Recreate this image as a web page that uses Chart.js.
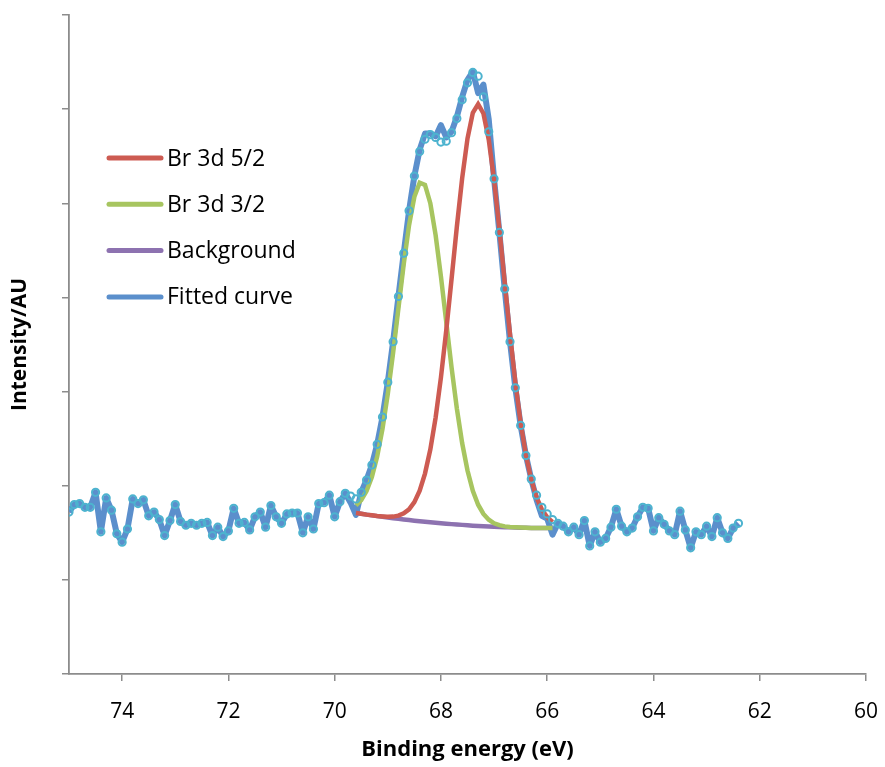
<!DOCTYPE html>
<html>
<head>
<meta charset="utf-8">
<title>Br 3d XPS</title>
<script src="https://cdn.jsdelivr.net/npm/chart.js@4.4.1/dist/chart.umd.min.js"></script>
<style>
  html, body { margin: 0; padding: 0; background: #fff; }
  #xps { display: block; }
</style>
</head>
<body>
<canvas id="xps" width="885" height="767"></canvas>
<script>
// binding energy grid of the measured spectrum (eV)
var energy = [
  75.0, 74.9, 74.8, 74.7, 74.6, 74.5, 74.4, 74.3, 74.2, 74.1,
  74.0, 73.9, 73.8, 73.7, 73.6, 73.5, 73.4, 73.3, 73.2, 73.1,
  73.0, 72.9, 72.8, 72.7, 72.6, 72.5, 72.4, 72.3, 72.2, 72.1,
  72.0, 71.9, 71.8, 71.7, 71.6, 71.5, 71.4, 71.3, 71.2, 71.1,
  71.0, 70.9, 70.8, 70.7, 70.6, 70.5, 70.4, 70.3, 70.2, 70.1,
  70.0, 69.9, 69.8, 69.7, 69.6, 69.5, 69.4, 69.3, 69.2, 69.1,
  69.0, 68.9, 68.8, 68.7, 68.6, 68.5, 68.4, 68.3, 68.2, 68.1,
  68.0, 67.9, 67.8, 67.7, 67.6, 67.5, 67.4, 67.3, 67.2, 67.1,
  67.0, 66.9, 66.8, 66.7, 66.6, 66.5, 66.4, 66.3, 66.2, 66.1,
  66.0, 65.9, 65.8, 65.7, 65.6, 65.5, 65.4, 65.3, 65.2, 65.1,
  65.0, 64.9, 64.8, 64.7, 64.6, 64.5, 64.4, 64.3, 64.2, 64.1,
  64.0, 63.9, 63.8, 63.7, 63.6, 63.5, 63.4, 63.3, 63.2, 63.1,
  63.0, 62.9, 62.8, 62.7, 62.6, 62.5, 62.4
];

// measured intensity (open markers)
var measured = [
  172, 180, 181, 177, 177, 193, 151, 187, 174, 149,
  140, 154, 186, 181, 185, 168, 172, 164, 147, 163,
  180, 162, 158, 160, 158, 160, 161, 147, 156, 146,
  152, 176, 160, 161, 153, 167, 172, 156, 179, 167,
  160, 170, 171, 171, 150, 167, 154, 181, 182, 190,
  167, 183, 192, 189, 186, 193, 206, 222, 244, 273,
  310, 353, 401, 447, 492, 529, 555, 568, 573, 570,
  565, 566, 575, 590, 610, 628, 639, 635, 613, 576,
  526, 469, 409, 353, 304, 264, 232, 207, 190, 177,
  170, 164, 160, 157, 151, 156, 148, 163, 136, 151,
  140, 144, 156, 175, 157, 151, 155, 167, 177, 176,
  152, 166, 159, 152, 148, 173, 153, 134, 151, 148,
  157, 146, 166, 150, 144, 155, 160
];

// fitted envelope (blue line)
var fitted = [
  172, 180, 181, 177, 177, 193, 151, 187, 174, 149,
  140, 154, 186, 181, 185, 168, 172, 164, 147, 163,
  180, 162, 158, 160, 158, 160, 161, 147, 156, 146,
  152, 176, 160, 161, 153, 167, 172, 156, 179, 167,
  160, 170, 171, 171, 150, 167, 154, 181, 182, 190,
  167, 183, 192, 182, 169, 193, 206, 222, 244, 273,
  310, 353, 401, 447, 492, 529, 557, 574, 574, 571,
  583, 570, 576, 592, 613, 631, 640, 617, 626, 589,
  526, 469, 409, 353, 304, 264, 232, 207, 185, 168,
  165, 148, 160, 157, 151, 156, 148, 163, 136, 151,
  140, 144, 156, 175, 157, 151, 155, 167, 177, 176,
  152, 166, 159, 152, 148, 173, 153, 134, 151, 148,
  157, 146, 166, 150, 144, 155, 160
];

// energy grid of the fit components (eV)
var compEnergy = [
  69.6, 69.5, 69.4, 69.3, 69.2, 69.1, 69.0, 68.9, 68.8, 68.7,
  68.6, 68.5, 68.4, 68.3, 68.2, 68.1, 68.0, 67.9, 67.8, 67.7,
  67.6, 67.5, 67.4, 67.3, 67.2, 67.1, 67.0, 66.9, 66.8, 66.7,
  66.6, 66.5, 66.4, 66.3, 66.2, 66.1, 66.0, 65.9
];

var br52 = [
  171, 170.2, 169.3, 168.6, 167.9, 167.4, 167, 167.2, 168.2, 170.6,
  174.9, 182.6, 194.7, 212.9, 238.4, 272.4, 314.9, 364.8, 419.6, 475.4,
  526.9, 568.8, 596, 605.3, 595.4, 567.5, 524.9, 472.8, 416.3, 360.9,
  310.3, 267.1, 232.5, 206.4, 187.5, 174.7, 166.4, 161.4
];

var br32 = [
  179.1, 184.8, 194.3, 209.2, 230.9, 260.4, 297.5, 341.2, 388.6, 435.6,
  476.6, 506.9, 521.9, 519.5, 500.1, 466.2, 422.3, 373.8, 325.6, 281.9,
  245.1, 216.2, 194.7, 179.8, 170, 163.9, 160.1, 158.1, 156.8, 156.2,
  155.8, 155.5, 155.3, 155.2, 155.1, 155, 155, 155
];

var background = [
  171, 170.2, 169.3, 168.5, 167.7, 167, 166.2, 165.5, 164.8, 164.2,
  163.5, 162.9, 162.3, 161.7, 161.2, 160.7, 160.2, 159.7, 159.2, 158.8,
  158.4, 158, 157.6, 157.3, 157, 156.7, 156.4, 156.2, 155.9, 155.8,
  155.6, 155.4, 155.3, 155.2, 155.1, 155, 155, 155
];

var xTicks = [74, 72, 70, 68, 66, 64, 62, 60];
var legendOrder = ['Br 3d 5/2', 'Br 3d 3/2', 'Background', 'Fitted curve'];

function pairs(xs, ys) {
  return ys.map(function(y, i) { return { x: xs[i], y: y }; });
}

var axisGrey = '#8c8c8c';
Chart.defaults.font.family = "'Open Sans', 'Noto Sans', sans-serif";
Chart.defaults.color = '#000';

// legend drawn inside the plot area, top left
var insideLegend = {
  id: 'insideLegend',
  afterDraw: function(chart) {
    var ctx = chart.ctx, area = chart.chartArea;
    var x0 = area.left + 40, x1 = area.left + 92, y0 = area.top + 143, gap = 46.3;
    ctx.save();
    ctx.font = "23px 'Open Sans', sans-serif";
    ctx.textBaseline = 'middle';
    legendOrder.forEach(function(name, i) {
      var ds = chart.data.datasets.find(function(d) { return d.label === name; });
      var y = y0 + i * gap;
      ctx.strokeStyle = ds.borderColor;
      ctx.lineWidth = 5;
      ctx.lineCap = 'round';
      ctx.beginPath();
      ctx.moveTo(x0, y);
      ctx.lineTo(x1, y);
      ctx.stroke();
      ctx.fillStyle = '#000';
      ctx.fillText(name, x1 + 6, y + 1);
    });
    ctx.restore();
  }
};

var ctx = document.getElementById('xps').getContext('2d');
var xps = new Chart(ctx, {
  type: 'scatter',
  data: {
    datasets: [
      {
        label: 'Measured',
        data: pairs(energy, measured),
        showLine: false,
        pointRadius: 3.6,
        pointBorderWidth: 2,
        pointBorderColor: '#4DB3CF',
        pointBackgroundColor: 'rgba(0,0,0,0)'
      },
      {
        label: 'Br 3d 5/2',
        data: pairs(compEnergy, br52),
        showLine: true,
        borderColor: '#CD5B52',
        borderWidth: 4.5,
        pointRadius: 0
      },
      {
        label: 'Br 3d 3/2',
        data: pairs(compEnergy, br32),
        showLine: true,
        borderColor: '#A7C560',
        borderWidth: 4.5,
        pointRadius: 0
      },
      {
        label: 'Fitted curve',
        data: pairs(energy, fitted),
        showLine: true,
        borderColor: '#5B8FCC',
        borderWidth: 6,
        borderJoinStyle: 'round',
        pointRadius: 0
      },
      {
        label: 'Background',
        data: pairs(compEnergy, background),
        showLine: true,
        borderColor: '#8D72B0',
        borderWidth: 4.5,
        pointRadius: 0
      }
    ]
  },
  options: {
    responsive: false,
    animation: false,
    layout: { padding: { top: 15, right: 19, left: 0, bottom: 0 } },
    plugins: {
      legend: { display: false },
      tooltip: { enabled: false }
    },
    scales: {
      x: {
        type: 'linear',
        min: 60,
        max: 75,
        reverse: true,
        afterFit: function(scale) {
          scale.height = 93;
          scale.paddingLeft = 0;
          scale.paddingRight = 0;
        },
        afterBuildTicks: function(scale) {
          scale.ticks = xTicks.map(function(v) { return { value: v }; });
        },
        ticks: {
          font: { size: 21 },
          padding: 18,
          maxRotation: 0,
          callback: function(v) { return String(v); }
        },
        grid: { drawOnChartArea: false, drawTicks: true, tickLength: 7, color: axisGrey, lineWidth: 1.5 },
        border: { color: axisGrey, width: 1.8 },
        title: {
          display: true,
          text: 'Binding energy (eV)',
          font: { size: 22, weight: 'bold' },
          padding: { top: 0, bottom: 4 }
        }
      },
      y: {
        type: 'linear',
        min: 0,
        max: 700,
        afterFit: function(scale) { scale.width = 69; },
        ticks: { stepSize: 100, display: false },
        grid: { drawOnChartArea: false, drawTicks: true, tickLength: 7, color: axisGrey, lineWidth: 1.5 },
        border: { color: axisGrey, width: 1.8 },
        title: {
          display: true,
          text: 'Intensity/AU',
          font: { size: 21, weight: 'bold' },
          padding: { top: 7, bottom: 0 }
        }
      }
    }
  },
  plugins: [insideLegend]
});
</script>
</body>
</html>
